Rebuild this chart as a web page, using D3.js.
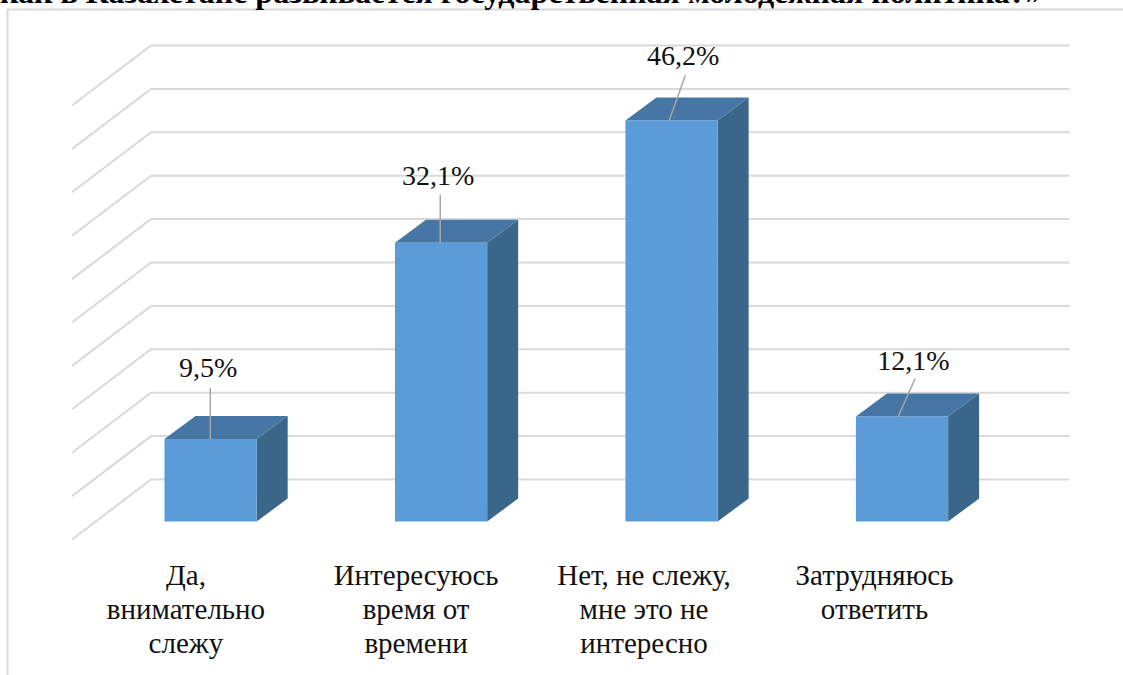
<!DOCTYPE html>
<html>
<head>
<meta charset="utf-8">
<script src="https://cdn.jsdelivr.net/npm/d3@7"></script>
<style>
  html, body { margin: 0; padding: 0; background: #fff; }
  svg { display: block; }
  text { font-family: "Liberation Serif", serif; fill: #111; }
</style>
</head>
<body>
<div id="chart"></div>
<script>
// chart values
const titleText = "как в Казахстане развивается государственная молодежная политика?»";
const categories = ["Да, внимательно слежу", "Интересуюсь время от времени", "Нет, не слежу, мне это не интересно", "Затрудняюсь ответить"];
const categoryLines = [
  ["Да,", "внимательно", "слежу"],
  ["Интересуюсь", "время от", "времени"],
  ["Нет, не слежу,", "мне это не", "интересно"],
  ["Затрудняюсь", "ответить"]
];
const values = [9.5, 32.1, 46.2, 12.1];
const valueLabels = ["9,5%", "32,1%", "46,2%", "12,1%"];
const gridValues = d3.range(0, 51, 5);

let width = 1123;
let height = 675;

let svg = d3.select("#chart")
  .append("svg")
  .attr("width", width).attr("height", height);

// scales: x is the front plane of the bars, y is the height above the floor
let xScale = d3.scaleBand()
  .domain(categories)
  .range([72.3, 1040.3])
  .paddingInner(0.6)
  .paddingOuter(0.4);
let yScale = d3.scaleLinear()
  .domain([0, 50])
  .range([521.5, 87.5]);

// depth of the plot box and of the bars
let wallDx = 79, wallDy = -60;
let floorDy = 18; // front edge of the floor sits under the bar baseline
let barDx = 31, barDy = -23;

// outer frame
svg.append("path")
  .attr("d", `M7.5 ${height} V9.5 H${width}`)
  .attr("fill", "none")
  .attr("stroke", "#d9d9d9")
  .attr("stroke-width", 2);

// title, cut off by the top of the page
svg.append("text")
  .attr("x", 0)
  .attr("y", 3)
  .attr("font-size", 32)
  .attr("font-weight", "bold")
  .style("fill", "#000")
  .text(titleText);

// gridlines, left wall then back wall
svg.append("g")
  .selectAll("path")
  .data(gridValues)
  .enter()
  .append("path")
  .attr("d", d => {
    let y = yScale(d) + floorDy;
    return `M72 ${y} l${wallDx} ${wallDy} H1069.5`;
  })
  .attr("fill", "none")
  .attr("stroke", "#d9d9d9")
  .attr("stroke-width", 2);

// bars
let bars = svg.append("g")
  .selectAll("g")
  .data(values)
  .enter()
  .append("g");

bars.append("path") // side face
  .attr("d", (d, i) => {
    let x = xScale(categories[i]) + xScale.bandwidth();
    return `M${x} ${yScale(d)} l${barDx} ${barDy} V${yScale(0) + barDy} L${x} ${yScale(0)} Z`;
  })
  .attr("fill", "#3a6689");

bars.append("path") // top face
  .attr("d", (d, i) => {
    let x = xScale(categories[i]);
    return `M${x} ${yScale(d)} l${barDx} ${barDy} h${xScale.bandwidth()} l${-barDx} ${-barDy} Z`;
  })
  .attr("fill", "#4676a4");

bars.append("rect") // front face
  .attr("x", (d, i) => xScale(categories[i]))
  .attr("y", d => yScale(d))
  .attr("width", xScale.bandwidth())
  .attr("height", d => yScale(0) - yScale(d))
  .attr("fill", "#5b9bd8");

// leader line offsets from the bar centre, bar top to label
let leaderDx = [[-0.3, -0.3], [-0.8, -0.8], [-2.3, 13.7], [-3.8, 13.2]];
let leaderDy = [-51, -48, -45, -38];

bars.append("line")
  .attr("x1", (d, i) => xScale(categories[i]) + xScale.bandwidth() / 2 + leaderDx[i][0])
  .attr("y1", d => yScale(d))
  .attr("x2", (d, i) => xScale(categories[i]) + xScale.bandwidth() / 2 + leaderDx[i][1])
  .attr("y2", (d, i) => yScale(d) + leaderDy[i])
  .attr("stroke", "#a6a6a6")
  .attr("stroke-width", 1.5);

// value labels
let labelDx = [-2.3, -2.8, 11.7, 11.5];
let labelY = [-62, -58, -55, -46];

bars.append("text")
  .attr("x", (d, i) => xScale(categories[i]) + xScale.bandwidth() / 2 + labelDx[i])
  .attr("y", (d, i) => yScale(d) + labelY[i])
  .attr("text-anchor", "middle")
  .attr("font-size", 28)
  .text((d, i) => valueLabels[i]);

// category labels
let catCentre = [-24.6, -25, -27.5, -27.5];

svg.append("g")
  .selectAll("text")
  .data(categories)
  .enter()
  .append("text")
  .attr("text-anchor", "middle")
  .attr("font-size", 29)
  .each(function(d, i) {
    d3.select(this).selectAll("tspan")
      .data(categoryLines[i])
      .enter()
      .append("tspan")
      .attr("x", xScale(d) + xScale.bandwidth() / 2 + catCentre[i])
      .attr("y", (l, j) => 584.5 + j * 34)
      .text(l => l);
  });
</script>
</body>
</html>
